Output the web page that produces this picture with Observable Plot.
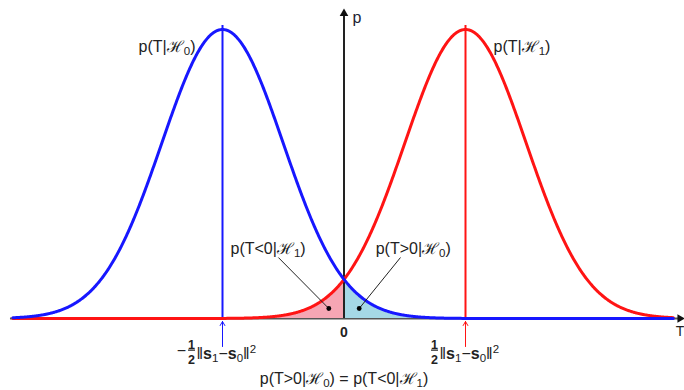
<!DOCTYPE html>
<html>
<head>
<meta charset="utf-8">
<script src="https://cdn.jsdelivr.net/npm/d3@7"></script>
<script src="https://cdn.jsdelivr.net/npm/@observablehq/plot@0.6"></script>
<style>
  html, body { margin: 0; padding: 0; background: #fff; }
  #chart svg { display: block; }
</style>
</head>
<body>
<div id="chart"></div>
<script>
// Two Gaussian densities of the test statistic T under H0 and H1
const hypotheses = ["H0", "H1"];
const means = [-2, 2];
const sigmas = [1, 1];
const curveColors = ["#1717ff", "#ff1414"];
const fillColors = ["#a5d8e6", "#f6a6b4"];
const curveLabels = ["p(T|ℋ_{0})", "p(T|ℋ_{1})"];

// Extent of the drawn curves and of the T axis
const curveExtent = [-5.45, 5.42];
const axisExtent = [-5.49, 5.51];
const axisTop = 0.421;      // tip of the p axis
const meanLineTop = 0.4045; // top of the vertical lines at the means

// Tail-area annotations
const annLabels = ["p(T<0|ℋ_{1})", "p(T>0|ℋ_{0})"];
const annX = [-1.25, 1.14];
const annY = [0.0966, 0.0966];
const leaderX1 = [-1.08, 0.93];
const leaderY1 = [0.0842, 0.0842];
const dotX = [-0.25, 0.25];
const dotY = [0.0138, 0.0138];

// Tick annotations under the means
const tickArrowY = [-0.0387, -0.0041];
const normText = "‖*s*_{1}−*s*_{0}‖^{2}";
const signs = ["−", ""];
const caption = "p(T>0|ℋ_{0}) = p(T<0|ℋ_{1})";

const gauss = (x, m, s) => Math.exp(-((x - m) ** 2) / (2 * s * s)) / (s * Math.sqrt(2 * Math.PI));
const peak = gauss(0, 0, 1);

const xs = d3.range(curveExtent[0], curveExtent[1] + 1e-9, 0.01);
const curves = means.map((m, i) => xs.map(x => ({x, p: gauss(x, m, sigmas[i])})));

// Shaded error tails: H1 density left of 0, H0 density right of 0
const redTail = d3.range(curveExtent[0], 0, 0.01).concat([0]).map(x => ({x, p: gauss(x, means[1], sigmas[1])}));
const blueTail = [0].concat(d3.range(0.01, curveExtent[1], 0.01)).map(x => ({x, p: gauss(x, means[0], sigmas[0])}));

const meanRows = means.map((m, i) => ({m, color: curveColors[i], sign: signs[i], label: curveLabels[i], h: hypotheses[i]}));
const annRows = annLabels.map((t, i) => ({t, x: annX[i], y: annY[i], x1: leaderX1[i], y1: leaderY1[i], dx: dotX[i], dy: dotY[i]}));

const font = "Liberation Sans, Arial, sans-serif";
const ink = "#222";

const chart = Plot.plot({
  width: 684,
  height: 390,
  margin: 0,
  x: {domain: [-2, 2], range: [222, 465], axis: null},
  y: {domain: [0, peak], range: [318, 29], axis: null},
  style: {fontFamily: font, background: "#fff"},
  marks: [
    // T axis
    Plot.ruleY([0], {x1: axisExtent[0], x2: axisExtent[1], stroke: "#555", strokeWidth: 2}),
    Plot.dot([0], {x: axisExtent[1] + 0.02, y: 0, symbol: "triangle", r: 3.2, fill: "#111", stroke: null, rotate: 90}),
    Plot.text(["T"], {x: axisExtent[1] + 0.09, y: 0, dy: 13, text: d => d, textAnchor: "end", fontSize: 14, fill: ink}),

    // shaded tails
    Plot.areaY(redTail, {x: "x", y: "p", fill: fillColors[1]}),
    Plot.areaY(blueTail, {x: "x", y: "p", fill: fillColors[0]}),

    // p axis
    Plot.ruleX([0], {y1: 0, y2: axisTop, stroke: "#222", strokeWidth: 2}),
    Plot.dot([0], {x: 0, y: axisTop, symbol: "triangle", r: 3.2, fill: "#111", stroke: null}),
    Plot.text(["p"], {x: 0, y: axisTop, dx: 13, dy: 4, text: d => d, fontSize: 16, fill: "#223"}),

    // vertical lines at the means
    Plot.ruleX(meanRows, {x: "m", y1: 0, y2: meanLineTop, stroke: "color", strokeWidth: 2}),

    // densities
    Plot.line(curves[1], {x: "x", y: "p", stroke: curveColors[1], strokeWidth: 3}),
    Plot.line(curves[0], {x: "x", y: "p", stroke: curveColors[0], strokeWidth: 3}),

    // curve names
    Plot.text([meanRows[0]], {x: "m", y: peak, dx: -27, dy: 17, text: "label", textAnchor: "end", fontSize: 16, fill: ink}),
    Plot.text([meanRows[1]], {x: "m", y: peak, dx: 28, dy: 17, text: "label", textAnchor: "start", fontSize: 16, fill: ink}),

    // tail annotations with leader lines
    Plot.link(annRows, {x1: "x1", y1: "y1", x2: "dx", y2: "dy", stroke: "#222", strokeWidth: 1}),
    Plot.dot(annRows, {x: "dx", y: "dy", r: 2.4, fill: "#000", stroke: null}),
    Plot.text(annRows, {x: "x", y: "y", text: "t", fontSize: 16, fill: ink}),

    // marks under the axis
    Plot.text(["0"], {x: 0, y: 0, dy: 14, text: d => d, fontSize: 14, fontWeight: "bold", fill: ink}),
    Plot.arrow(meanRows, {x1: "m", x2: "m", y1: tickArrowY[0], y2: tickArrowY[1], stroke: "color", strokeWidth: 1, headLength: 7}),
    Plot.text(meanRows.filter(d => d.sign), {x: "m", y: 0, dx: -41, dy: 32, text: "sign", fontSize: 16, fill: ink}),
    Plot.text(meanRows, {x: "m", y: 0, dx: -31, dy: 26, text: () => "~{1}", fontSize: 12.5, fontWeight: "bold", fill: ink}),
    Plot.text(meanRows, {x: "m", y: 0, dx: -31, dy: 41.5, text: () => "2", fontSize: 12.5, fontWeight: "bold", fill: ink}),
    Plot.text(meanRows, {x: "m", y: 0, dx: -26, dy: 35, text: () => normText, textAnchor: "start", fontSize: 16, fill: ink}),
    Plot.text([caption], {x: 0, y: 0, dy: 60, text: d => d, fontSize: 16, fill: ink})
  ]
});

// Light markup in labels: _{..} subscript, ^{..} superscript, *..* bold,
// ~{..} fraction numerator (underlined as the fraction bar)
const SVGNS = "http://www.w3.org/2000/svg";
function richText(node) {
  const s = node.textContent;
  const re = /_\{([^}]*)\}|\^\{([^}]*)\}|\*([^*]+)\*|~\{([^}]*)\}/g;
  if (!re.test(s)) return;
  re.lastIndex = 0;
  node.textContent = "";
  let last = 0, m, shift = 0; // current baseline offset, in parent em
  const add = (txt, attrs, target = 0) => {
    const t = document.createElementNS(SVGNS, "tspan");
    t.textContent = txt;
    const size = attrs["font-size"] ? parseFloat(attrs["font-size"]) / 100 : 1;
    if (target !== shift) t.setAttribute("dy", ((target - shift) / size).toFixed(3) + "em");
    shift = target;
    for (const k in attrs) t.setAttribute(k, attrs[k]);
    node.appendChild(t);
  };
  while ((m = re.exec(s))) {
    if (m.index > last) add(s.slice(last, m.index), {});
    if (m[1] != null) add(m[1], {"font-size": "72%"}, 0.22);
    else if (m[2] != null) add(m[2], {"font-size": "72%"}, -0.38);
    else if (m[3] != null) add(m[3], {"font-weight": "bold"});
    else add(m[4], {"text-decoration": "underline"});
    last = re.lastIndex;
  }
  if (last < s.length) add(s.slice(last), {});
}
d3.select(chart).selectAll("text").each(function() { richText(this); });

document.getElementById("chart").appendChild(chart);
</script>
</body>
</html>
